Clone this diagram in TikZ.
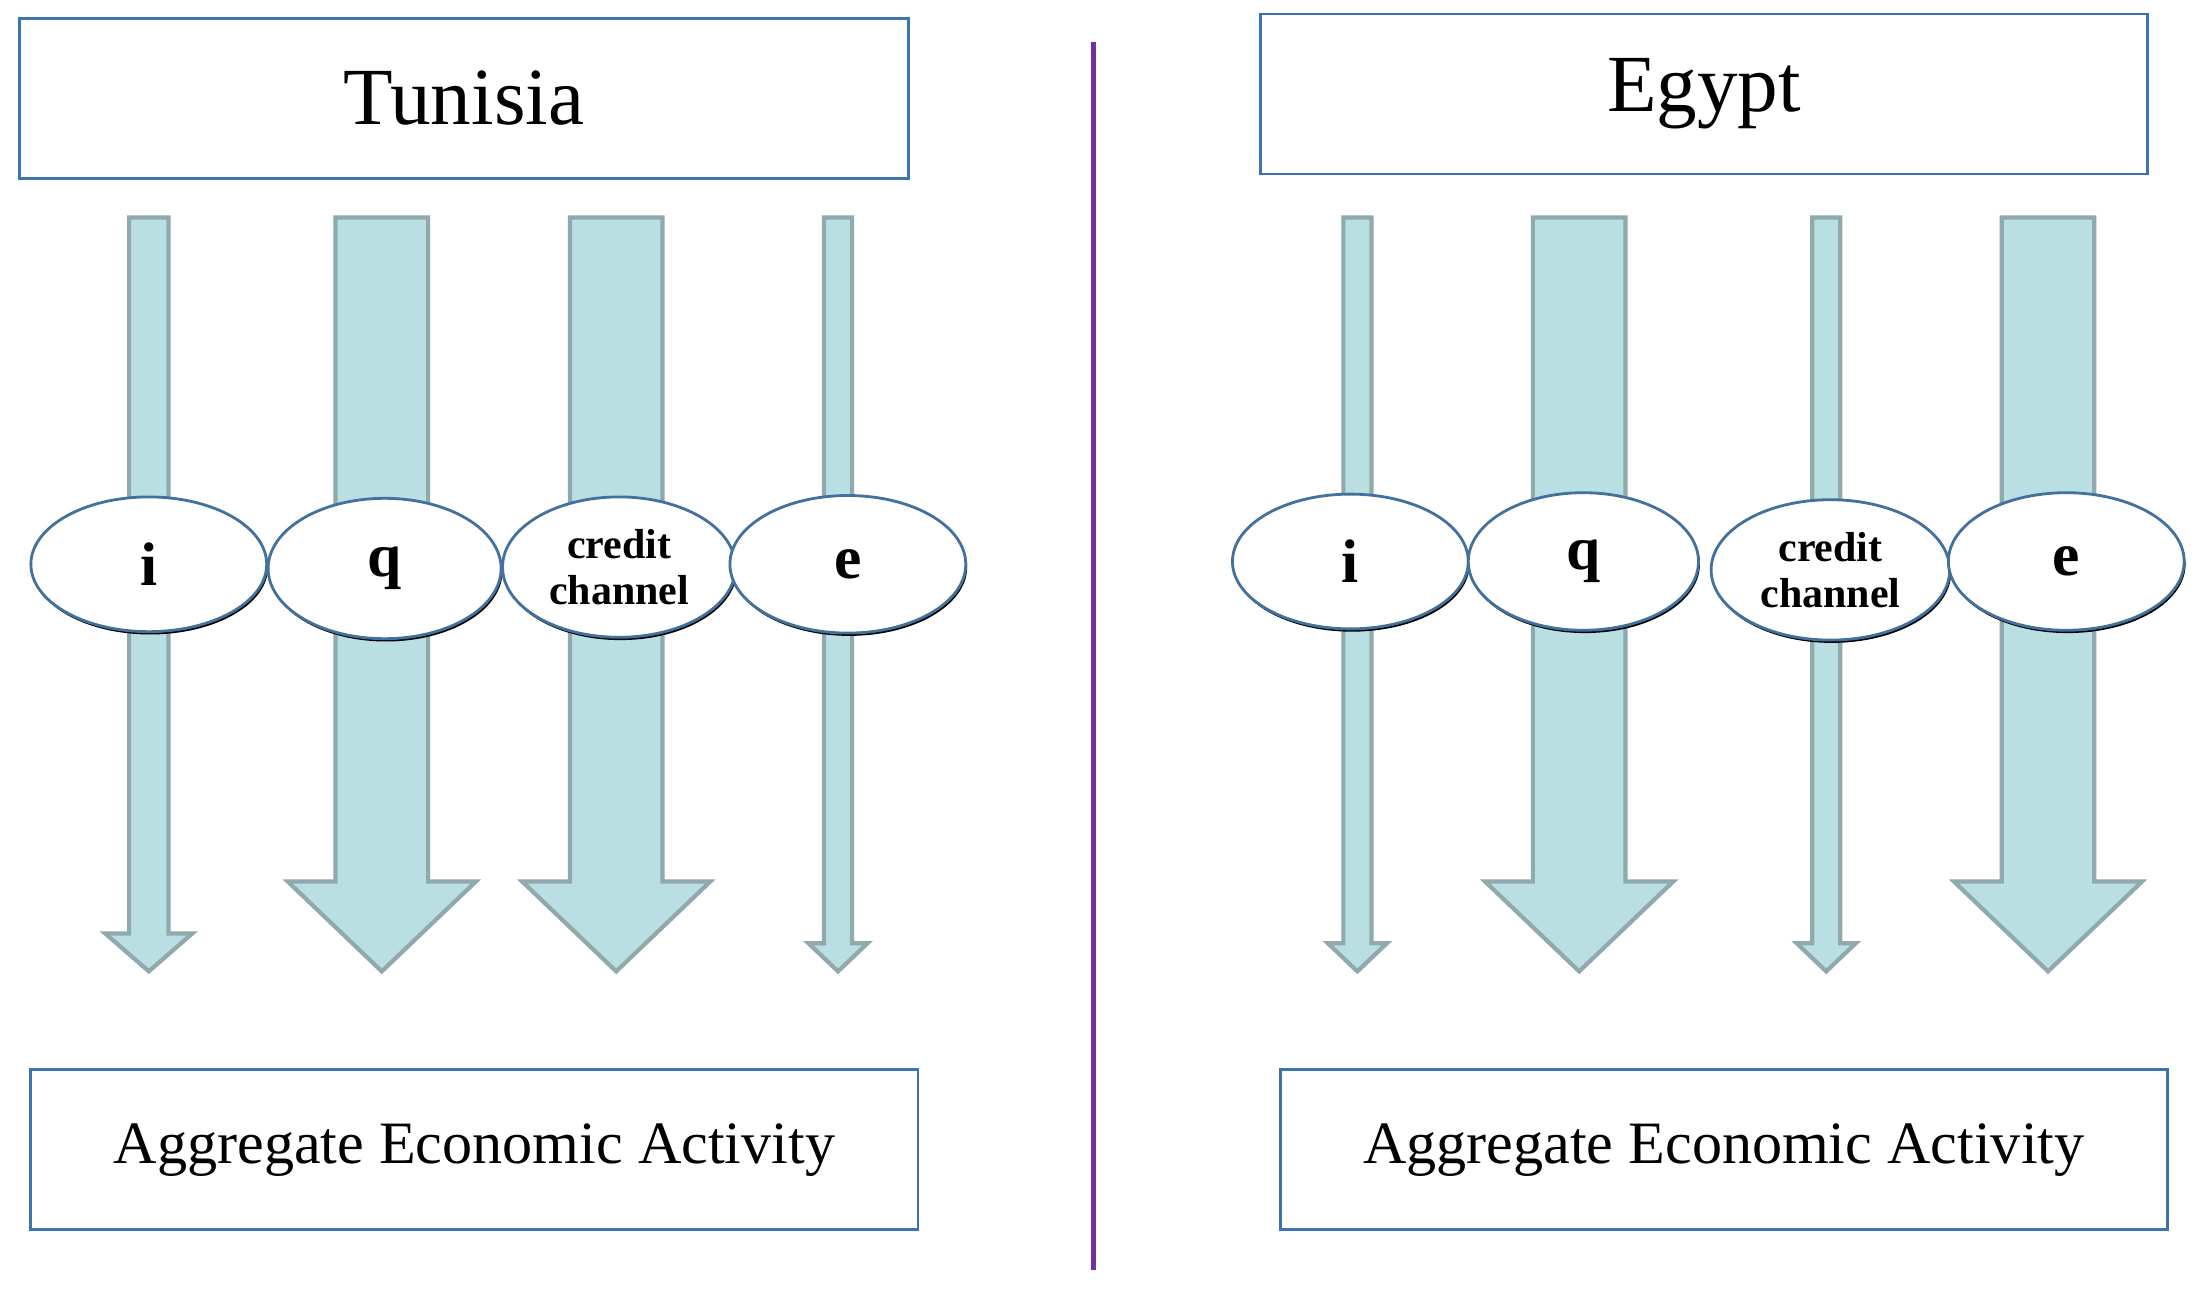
\documentclass[tikz,border=0pt]{standalone}
\usepackage{fontspec}
\setmainfont{Liberation Serif}
\usetikzlibrary{shapes.geometric}
\begin{document}
\begin{tikzpicture}[x=1bp,y=-1bp,
  box/.style={draw=boxblue,line width=2bp,fill=white},
  chan/.style={draw=elblue,line width=2bp,fill=white,ellipse,inner sep=0pt},
  arr/.style={fill=arrfill,draw=arrline,line width=3bp,line join=miter}]
\definecolor{boxblue}{HTML}{3A75B0}
\definecolor{arrfill}{HTML}{BADFE2}
\definecolor{arrline}{HTML}{8FA9AD}
\definecolor{elblue}{HTML}{41719C}
\definecolor{divpurple}{HTML}{7030A0}
\useasboundingbox (0,0) rectangle (1568,917.6);
\foreach \c/\s/\h/\b in {106/14/31/665, 272/33/67/628, 439/33/67/628, 597/10/21/672,
                          967/10/21/672, 1125/33/67/628, 1301/10/21/672, 1459/33/67/628}{
  \draw[arr] (\c-\s,155) -- (\c+\s,155) -- (\c+\s,\b) -- (\c+\h,\b) -- (\c,692)
     -- (\c-\h,\b) -- (\c-\s,\b) -- cycle;
}
\node[box,minimum width=633bp,minimum height=114bp,font=\fontsize{58}{64}\selectfont] (tun) at (330.5,70) {Tunisia};
\node[box,minimum width=632bp,minimum height=114bp,font=\fontsize{58}{64}\selectfont] (egy) at (1214,67) {Egypt};
\node[box,minimum width=632bp,minimum height=114bp,font=\fontsize{43}{48}\selectfont] (agg1) at (338,819) {Aggregate Economic Activity};
\node[box,minimum width=632bp,minimum height=114bp,font=\fontsize{43}{48}\selectfont] (agg2) at (1228,819) {Aggregate Economic Activity};
\draw[divpurple,line width=4bp] (779,30) coordinate (d1) -- (779,905) coordinate (d2);
\tikzset{big/.style={font=\bfseries\fontsize{44}{48}\selectfont},
         small/.style={font=\bfseries\fontsize{30}{33}\selectfont,align=center}}
\foreach \n/\x/\y/\rx/\ry/\st/\t in {
  ti/106/402/84/48/big/i, tq/274/405/83/50/big/q, tc/441/404/83/50/small/{credit\\channel}, te/604/402/84/49/big/e,
  ei/962/400/84/48/big/i, eq/1128/400/82/49/big/q, ec/1304/406/85/50/small/{credit\\channel}, ee/1472/400/84/49/big/e}{
  \fill[black] (\x+1,\y+2) ellipse [x radius=\rx, y radius=\ry];
  \node[chan,minimum width={2*\rx*1.00375pt},minimum height={2*\ry*1.00375pt},\st] (\n) at (\x,\y) {\t};
}
\end{tikzpicture}
\end{document}
